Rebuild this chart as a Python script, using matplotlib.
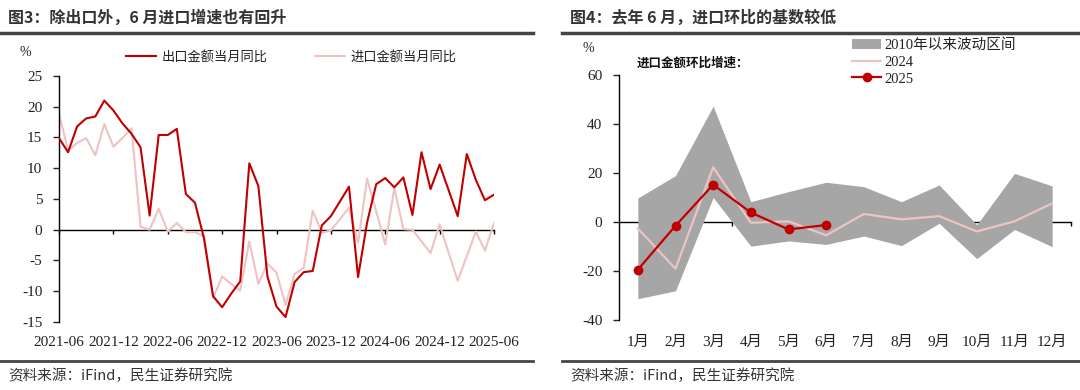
import matplotlib as mpl
mpl.use('Agg')
import matplotlib.pyplot as plt
import numpy as np
import pandas as pd
from matplotlib.lines import Line2D

plt.rcParams['font.family'] = ['Liberation Serif', 'Noto Sans CJK SC']
plt.rcParams['axes.unicode_minus'] = False

# 图3 数据：2021-06 ~ 2025-06 当月同比（%）
months = list(pd.date_range('2021-06-01', periods=49, freq='MS').strftime('%Y-%m'))
export_yoy = [14.9, 12.6, 16.8, 18.1, 18.4, 21.0, 19.4, 17.3, 15.6, 13.4,
              2.3, 15.4, 15.4, 16.4, 5.8, 4.4, -1.4, -10.8, -12.6, -10.4,
              -8.4, 10.8, 7.1, -7.6, -12.5, -14.2, -8.5, -6.9, -6.7, 0.7,
              2.2, 4.6, 7.0, -7.7, 1.2, 7.4, 8.4, 6.9, 8.5, 2.4,
              12.6, 6.6, 10.6, 6.4, 2.2, 12.3, 8.1, 4.8, 5.7]
import_yoy = [18.9, 12.9, 14.1, 14.9, 12.1, 17.2, 13.5, 14.9, 16.5, 0.5,
              0.0, 3.4, -0.3, 1.1, -0.4, -0.4, -1.1, -11.1, -7.6, -8.8,
              -9.9, -1.9, -8.8, -5.5, -7.0, -12.2, -7.2, -6.2, 3.1, -0.5,
              -0.1, 1.7, 3.6, -2.1, 8.3, 3.0, -2.4, 6.8, 0.1, 0.0,
              -1.9, -3.8, 0.9, -3.8, -8.3, -4.3, -0.3, -3.4, 1.1]
tick_every = 6

# 图4 数据：进口金额环比增速（%）
cats = ['1月', '2月', '3月', '4月', '5月', '6月', '7月', '8月', '9月', '10月', '11月', '12月']
band_hi = [9.8, 18.9, 47.2, 8.3, 12.4, 16.2, 14.4, 8.3, 15.1, -1.1, 19.8, 14.7]
band_lo = [-31.2, -28.0, 10.0, -9.8, -7.7, -9.1, -5.7, -9.6, -0.5, -14.9, -3.0, -10.0]
mom_2024 = [-2.6, -19.0, 22.3, -0.3, 0.3, -5.4, 3.3, 1.1, 2.4, -3.8, 0.3, 7.6]
mom_2025 = [-19.4, -1.5, 15.2, 3.9, -3.0, -1.2]

dark = '#C00000'
pale = '#EDC3C3'
txt = '#222222'
serif = ['Liberation Serif', 'Noto Sans CJK SC']

fig = plt.figure(figsize=(10.8, 3.9), dpi=100)

# ---------- 图3 ----------
ax1 = fig.add_axes([59 / 1080, 0.1744, 435 / 1080, 0.6308])
x1 = np.arange(len(months))
ax1.plot(x1, export_yoy, color=dark, lw=1.5, label='出口金额当月同比', zorder=3)
ax1.plot(x1, import_yoy, color=pale, lw=1.5, label='进口金额当月同比', zorder=2)
ax1.set_xlim(0, len(months) - 1)
ax1.set_ylim(-15, 25)
ax1.set_yticks(range(-15, 30, 5))
ax1.set_xticks(x1[::tick_every])
ax1.set_xticklabels(months[::tick_every])
ax1.tick_params(axis='x', length=0, pad=10, labelsize=11, colors=txt)
ax1.tick_params(axis='y', length=4, pad=8, labelsize=11, colors=txt, width=1)
for s in ['top', 'right', 'bottom']:
    ax1.spines[s].set_visible(False)
ax1.spines['left'].set_linewidth(1)
zero1 = ax1.secondary_xaxis(15 / 40)
zero1.set_xticks(x1[::tick_every])
zero1.set_xticklabels([])
zero1.tick_params(length=3, direction='out', width=1)
zero1.spines['bottom'].set_linewidth(1)
fig.text(25 / 1080, 1 - 52 / 390, '%', fontsize=10, ha='center', va='center', color=txt, family=serif)
fig.legend(handles=ax1.get_lines(), loc='center left', bbox_to_anchor=(126 / 1080, 1 - 57 / 390),
           ncol=2, frameon=False, fontsize=9.5, borderpad=0, borderaxespad=0,
           handlelength=2.3, handletextpad=0.4, columnspacing=3.6, labelcolor=txt)

# ---------- 图4 ----------
ax2 = fig.add_axes([619 / 1080, 0.1787, 452 / 1080, 0.6298])
x2 = np.arange(len(cats))
band = ax2.fill_between(x2, band_lo, band_hi, color='#A6A6A6', lw=0, label='2010年以来波动区间', zorder=1)
l24, = ax2.plot(x2, mom_2024, color=pale, lw=1.6, label='2024', zorder=2)
l25, = ax2.plot(x2[:len(mom_2025)], mom_2025, color=dark, lw=1.6, marker='o', ms=6,
                label='2025', zorder=4)
ax2.set_xlim(-0.5, len(cats) - 0.5)
ax2.set_ylim(-40, 60)
ax2.set_yticks(range(-40, 80, 20))
ax2.set_xticks(x2)
ax2.set_xticklabels(cats)
ax2.tick_params(axis='x', length=0, pad=11, labelsize=11, colors=txt)
ax2.tick_params(axis='y', length=4, pad=8, labelsize=11, colors=txt, width=1)
for s in ['top', 'right', 'bottom']:
    ax2.spines[s].set_visible(False)
ax2.spines['left'].set_linewidth(1)
zero2 = ax2.secondary_xaxis(40 / 100)
zero2.set_xticks(np.arange(len(cats)) + 0.5)
zero2.set_xticklabels([])
zero2.tick_params(length=3, direction='out', width=1)
zero2.spines['bottom'].set_linewidth(1)
fig.text(588 / 1080, 1 - 49 / 390, '%', fontsize=10, ha='center', va='center', color=txt, family=serif)
fig.text(637 / 1080, 1 - 63 / 390, '进口金额环比增速：', fontsize=9, fontweight='bold',
         ha='left', va='center', color='#111111', family=['Noto Sans CJK SC'])
fig.legend(handles=[band, l24, l25], loc='upper left', bbox_to_anchor=(852 / 1080, 1 - 38 / 390),
           frameon=False, fontsize=10.5, borderpad=0, borderaxespad=0, handlelength=2.0,
           handletextpad=0.2, labelspacing=0.25, labelcolor=txt)

for ax in (ax1, ax2):
    for lbl in ax.get_xticklabels() + ax.get_yticklabels():
        lbl.set_family(serif)

# ---------- 标题与来源 ----------
fig.text(8 / 1080, 1 - 18 / 390, '图3：除出口外，6 月进口增速也有回升', fontsize=11.5, fontweight='bold',
         ha='left', va='center', color='#333333', family=['Noto Sans CJK SC'])
fig.text(570 / 1080, 1 - 18 / 390, '图4：去年 6 月，进口环比的基数较低', fontsize=11.5, fontweight='bold',
         ha='left', va='center', color='#333333', family=['Noto Sans CJK SC'])
for x0, x1_ in [(0, 533), (562, 1080)]:
    fig.add_artist(Line2D([x0 / 1080, x1_ / 1080], [1 - 33 / 390] * 2, color='#444444', lw=2.5))
    fig.add_artist(Line2D([x0 / 1080, x1_ / 1080], [1 - 361 / 390] * 2, color='#444444', lw=2))
fig.text(8 / 1080, 1 - 376 / 390, '资料来源：iFind，民生证券研究院', fontsize=10.5,
         ha='left', va='center', color='#333333', family=['Noto Sans CJK SC'])
fig.text(570 / 1080, 1 - 376 / 390, '资料来源：iFind，民生证券研究院', fontsize=10.5,
         ha='left', va='center', color='#333333', family=['Noto Sans CJK SC'])

fig.savefig('out.png', dpi=100)
plt.close()
